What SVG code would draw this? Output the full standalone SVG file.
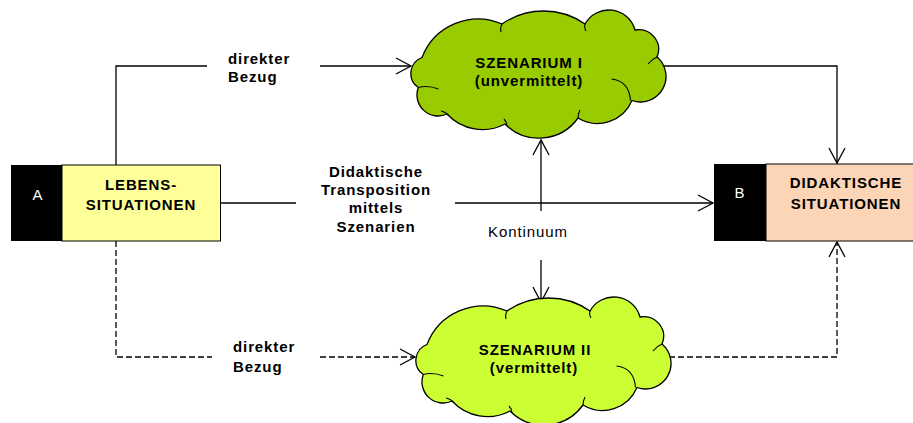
<svg xmlns="http://www.w3.org/2000/svg" width="913" height="423" viewBox="0 0 913 423">
<style>
.t{font-family:"Liberation Sans",Arial,sans-serif;font-size:15px;letter-spacing:0.9px;fill:#000}
.b{font-weight:bold}
.m{text-anchor:middle}
.w{fill:#fff}
.ln{fill:none;stroke:#000;stroke-width:1.3}
.d{stroke-dasharray:6 3}
.cl{stroke:#000;stroke-width:1.3}
.in{fill:none;stroke:#000;stroke-width:1.1}
</style>
<defs>
<marker id="ah" markerUnits="userSpaceOnUse" viewBox="-17 -10 19 20" markerWidth="19" markerHeight="20" refX="0" refY="0" orient="auto">
<path d="M-15,-8 L0,0 L-15,8" fill="none" stroke="#000" stroke-width="1.3" stroke-dasharray="none"/>
</marker>
<path id="cloud" d="M418.3,87.5 A17,17 0 0 1 422,57.5 A60,60 0 0 1 502,24 A72.7,72.7 0 0 1 585,24 A27.2,27.2 0 0 1 635,30 A19.7,19.7 0 0 1 657,57 A25.5,25.5 0 0 1 632,100.5 A37.5,37.5 0 0 1 578,118 A47.9,47.9 0 0 1 505,124 A48.4,48.4 0 0 1 447,114 A21.1,21.1 0 0 1 418.3,87.5 Z"/>
<path id="inner" d="M418.3,87.5 Q428,85 438.5,89 M502,24 Q500,28 501,32 M585,24 Q584,28 586,31 M657,57 Q652,59 648,64 M611.5,79 Q629,81 630.5,100.5 M580,110 Q578,114 578,118 M504,119 Q507,122 507,126 M441,111 Q446,112 449,116"/>
</defs>

<g id="connectors">
<path class="ln" d="M116,165 V66 H207"/>
<path class="ln" d="M320,66 H411" marker-end="url(#ah)"/>
<path class="ln" d="M663,66 H837 V163" marker-end="url(#ah)"/>
<path class="ln" d="M220,203 H296"/>
<path class="ln" d="M455,203 H713" marker-end="url(#ah)"/>
<path class="ln" d="M541,211 V140" marker-end="url(#ah)"/>
<path class="ln" d="M541,260 V302" marker-end="url(#ah)"/>
<path class="ln d" d="M116,241 V357 H212"/>
<path class="ln d" d="M320,357 H415" marker-end="url(#ah)"/>
<path class="ln d" d="M669,357 H837 V242" marker-end="url(#ah)"/>
<text class="t b" x="228" y="64">direkter</text>
<text class="t b" x="228" y="82">Bezug</text>
<text class="t b" x="233" y="352">direkter</text>
<text class="t b" x="233" y="372">Bezug</text>
<text class="t b m" x="376" y="177">Didaktische</text>
<text class="t b m" x="376" y="195">Transposition</text>
<text class="t b m" x="376" y="213">mittels</text>
<text class="t b m" x="376" y="232">Szenarien</text>
<text class="t m" x="528" y="237">Kontinuum</text>
</g>

<g id="nodeA">
<rect x="11" y="165" width="51" height="76" fill="#000"/>
<rect x="62" y="165" width="158.5" height="76" fill="#FFFF99" stroke="#000" stroke-width="1"/>
<text class="t w m" x="38" y="200">A</text>
<text class="t b m" x="141" y="190">LEBENS-</text>
<text class="t b m" x="141" y="210">SITUATIONEN</text>
</g>

<g id="nodeB">
<rect x="714" y="164" width="52" height="77" fill="#000"/>
<rect x="766" y="164" width="160" height="77" fill="#FBD5B5" stroke="#000" stroke-width="1"/>
<text class="t w m" x="740" y="198">B</text>
<text class="t b m" x="846" y="188">DIDAKTISCHE</text>
<text class="t b m" x="846" y="209">SITUATIONEN</text>
</g>

<g id="szenario1">
<use href="#cloud" fill="#99CC00" class="cl"/>
<use href="#inner" class="in"/>
<text class="t b m" x="529" y="68">SZENARIUM I</text>
<text class="t b m" x="529" y="86">(unvermittelt)</text>
</g>

<g id="szenario2">
<g transform="translate(5,287)">
<use href="#cloud" fill="#CCFF33" class="cl"/>
<use href="#inner" class="in"/>
</g>
<text class="t b m" x="535" y="355">SZENARIUM II</text>
<text class="t b m" x="534" y="373">(vermittelt)</text>
</g>
</svg>
